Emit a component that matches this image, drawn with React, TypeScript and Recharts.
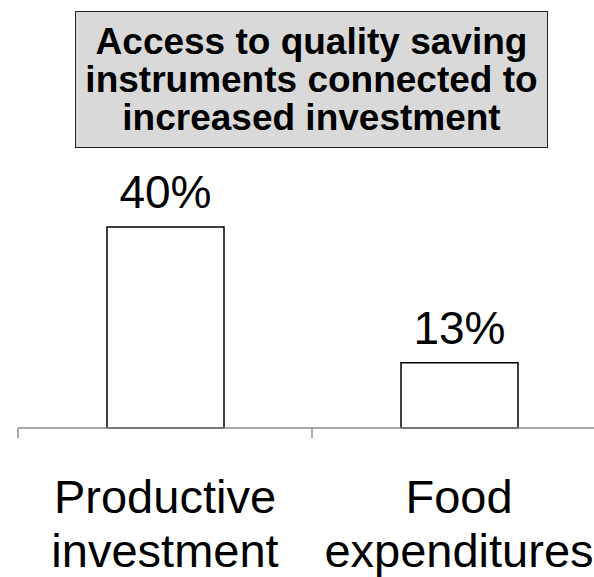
import React from "react";
import { BarChart, Bar, XAxis, YAxis, LabelList } from "recharts";

const titleLines = ["Access to quality saving", "instruments connected to", "increased investment"];
const categories = ["Productive investment", "Food expenditures"];
const categoryLines = [
  ["Productive", "investment"],
  ["Food", "expenditures"],
];
const shares = [40, 13];

const FONT = "'Liberation Sans', Arial, sans-serif";
const AXIS_GREY = "#8c8c8c";

const data = categories.map((name, i) => ({ name, share: shares[i] }));

// label plus the grey tick on the left edge of each band
function CategoryTick(props: any) {
  const { x, y, payload } = props;
  const idx = categories.indexOf(payload.value);
  const lines = categoryLines[idx] || [payload.value];
  const half = payload.offset ?? 0;
  return (
    <g>
      <line x1={x - half} x2={x - half} y1={y} y2={y + 10} stroke={AXIS_GREY} strokeWidth={1.5} />
      <text x={x} y={y} textAnchor="middle" fontFamily={FONT} fontSize={47} fill="#000">
        {lines.map((l, i) => (
          <tspan key={i} x={x} y={y + 85 + i * 54}>
            {l}
          </tspan>
        ))}
      </text>
    </g>
  );
}

export default function App() {
  return (
    <div style={{ position: "fixed", left: 0, top: 0, width: 594, height: 577, overflow: "hidden", background: "#fff" }}>
      <div
        style={{
          position: "absolute",
          left: 75,
          top: 11,
          width: 473,
          height: 137,
          boxSizing: "border-box",
          background: "#d9d9d9",
          border: "1.5px solid #222",
          display: "flex",
          flexDirection: "column",
          justifyContent: "center",
          alignItems: "center",
          fontFamily: FONT,
          fontWeight: "bold",
          fontSize: 37,
          lineHeight: "38px",
          color: "#000",
          textAlign: "center",
          zIndex: 2,
        }}
      >
        {titleLines.map((t) => (
          <div key={t}>{t}</div>
        ))}
      </div>
      <BarChart width={620} height={577} data={data} margin={{ top: 227, right: 14, left: 18, bottom: 0 }}>
        <XAxis
          dataKey="name"
          height={149}
          axisLine={{ stroke: AXIS_GREY, strokeWidth: 1.5 }}
          tickLine={false}
          tickSize={0}
          tickMargin={0}
          interval={0}
          tick={<CategoryTick />}
        />
        <YAxis hide domain={[0, 40]} />
        <Bar dataKey="share" barSize={117} fill="#fff" stroke="#000" strokeWidth={1.5} isAnimationActive={false}>
          <LabelList
            dataKey="share"
            position="top"
            offset={19}
            formatter={(v: any) => `${v}%`}
            fontSize={46}
            fontFamily={FONT}
            fill="#000"
          />
        </Bar>
      </BarChart>
    </div>
  );
}
